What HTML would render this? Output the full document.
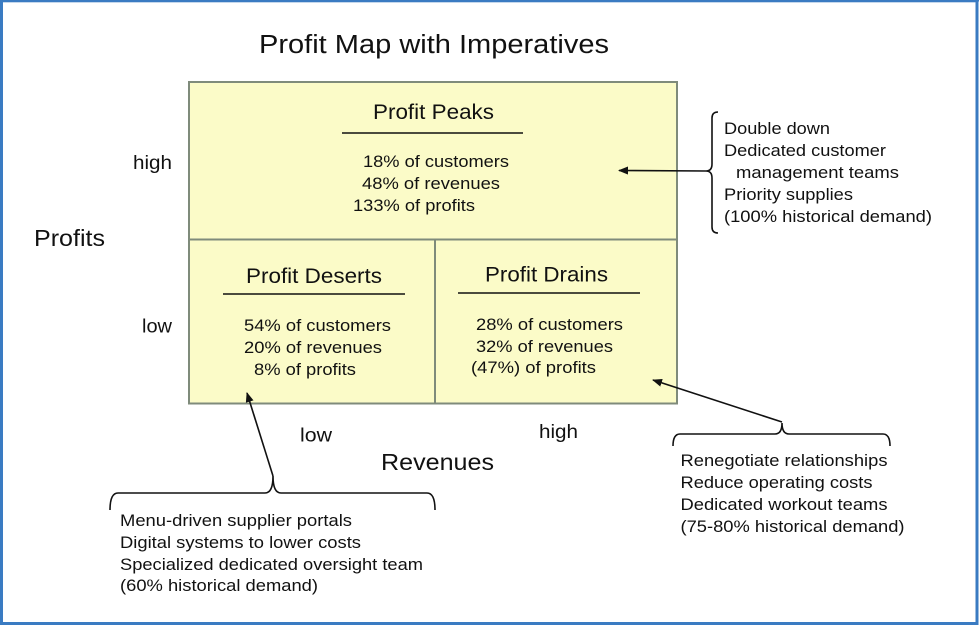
<!DOCTYPE html>
<html><head><meta charset="utf-8"><style>
html,body{margin:0;padding:0;background:#fff;}
svg{display:block;}
text{font-family:"Liberation Sans",Arial,sans-serif;fill:#111;}
</style></head><body>
<svg width="979" height="625" viewBox="0 0 979 625" xmlns="http://www.w3.org/2000/svg">
<defs>
<marker id="ah" markerWidth="10" markerHeight="8" refX="9" refY="4" orient="auto" markerUnits="userSpaceOnUse">
<path d="M0,0 L10,4 L0,8 Z" fill="#111"/>
</marker>
</defs>
<rect x="0" y="0" width="979" height="625" fill="#fff"/>
<!-- blue frame -->
<rect x="1.5" y="0.8" width="975.5" height="622.7" fill="none" stroke="#3a7bc2" stroke-width="3"/>
<rect x="0" y="0" width="979" height="1.5" fill="#3a7bc2"/>

<!-- title -->
<text x="259" y="53" font-size="25.5" textLength="350" lengthAdjust="spacingAndGlyphs">Profit Map with Imperatives</text>

<!-- matrix -->
<rect x="189" y="82" width="488" height="321.5" fill="#fbfbc8" stroke="#7f8b7b" stroke-width="2"/>
<line x1="189" y1="239.5" x2="677" y2="239.5" stroke="#7f8b7b" stroke-width="2"/>
<line x1="435" y1="239.5" x2="435" y2="403.5" stroke="#7f8b7b" stroke-width="2"/>

<!-- Peaks -->
<text x="373" y="119" font-size="21" textLength="121" lengthAdjust="spacingAndGlyphs">Profit Peaks</text>
<line x1="342" y1="133" x2="523" y2="133" stroke="#111" stroke-width="1.6"/>
<text x="363" y="167" font-size="17" textLength="146" lengthAdjust="spacingAndGlyphs">18% of customers</text>
<text x="362" y="189" font-size="17" textLength="138" lengthAdjust="spacingAndGlyphs">48% of revenues</text>
<text x="353" y="211" font-size="17" textLength="122" lengthAdjust="spacingAndGlyphs">133% of profits</text>

<!-- Deserts -->
<text x="246" y="283" font-size="21" textLength="136" lengthAdjust="spacingAndGlyphs">Profit Deserts</text>
<line x1="223" y1="294" x2="405" y2="294" stroke="#111" stroke-width="1.6"/>
<text x="244" y="331" font-size="17" textLength="147" lengthAdjust="spacingAndGlyphs">54% of customers</text>
<text x="244" y="353" font-size="17" textLength="138" lengthAdjust="spacingAndGlyphs">20% of revenues</text>
<text x="254" y="375" font-size="17" textLength="102" lengthAdjust="spacingAndGlyphs">8% of profits</text>

<!-- Drains -->
<text x="485" y="281.5" font-size="21" textLength="123" lengthAdjust="spacingAndGlyphs">Profit Drains</text>
<line x1="458" y1="293" x2="640" y2="293" stroke="#111" stroke-width="1.6"/>
<text x="476" y="330" font-size="17" textLength="147" lengthAdjust="spacingAndGlyphs">28% of customers</text>
<text x="476" y="352" font-size="17" textLength="137" lengthAdjust="spacingAndGlyphs">32% of revenues</text>
<text x="471" y="373" font-size="17" textLength="125" lengthAdjust="spacingAndGlyphs">(47%) of profits</text>

<!-- axis labels -->
<text x="133" y="169" font-size="19" textLength="39" lengthAdjust="spacingAndGlyphs">high</text>
<text x="34" y="246" font-size="23.5" textLength="71" lengthAdjust="spacingAndGlyphs">Profits</text>
<text x="142" y="332.5" font-size="19" textLength="30" lengthAdjust="spacingAndGlyphs">low</text>
<text x="300" y="441.5" font-size="19" textLength="32" lengthAdjust="spacingAndGlyphs">low</text>
<text x="539" y="438" font-size="19" textLength="39" lengthAdjust="spacingAndGlyphs">high</text>
<text x="381" y="470" font-size="23.5" textLength="113" lengthAdjust="spacingAndGlyphs">Revenues</text>

<!-- right brace + arrow -->
<path d="M718,112 Q712,112 712,118 L712,164 Q712,171 706,171 Q712,171 712,178 L712,227 Q712,233 718,233" fill="none" stroke="#111" stroke-width="1.6"/>
<line x1="706" y1="171" x2="619" y2="170.5" stroke="#111" stroke-width="1.6" marker-end="url(#ah)"/>
<text x="724" y="134" font-size="17" textLength="106" lengthAdjust="spacingAndGlyphs">Double down</text>
<text x="724" y="156" font-size="17" textLength="162" lengthAdjust="spacingAndGlyphs">Dedicated customer</text>
<text x="736" y="178" font-size="17" textLength="163" lengthAdjust="spacingAndGlyphs">management teams</text>
<text x="724" y="200" font-size="17" textLength="129" lengthAdjust="spacingAndGlyphs">Priority supplies</text>
<text x="724" y="222" font-size="17" textLength="208" lengthAdjust="spacingAndGlyphs">(100% historical demand)</text>

<!-- bottom-left brace + arrow -->
<path d="M110,510 Q110,493 118,493 L265,493 Q273,493 273,476 Q273,493 281,493 L427,493 Q435,493 435,510" fill="none" stroke="#111" stroke-width="1.6"/>
<line x1="273" y1="476" x2="247" y2="393" stroke="#111" stroke-width="1.6" marker-end="url(#ah)"/>
<text x="120" y="526" font-size="17" textLength="232" lengthAdjust="spacingAndGlyphs">Menu-driven supplier portals</text>
<text x="120" y="548" font-size="17" textLength="241" lengthAdjust="spacingAndGlyphs">Digital systems to lower costs</text>
<text x="120" y="570" font-size="17" textLength="303" lengthAdjust="spacingAndGlyphs">Specialized dedicated oversight team</text>
<text x="120" y="591" font-size="17" textLength="198" lengthAdjust="spacingAndGlyphs">(60% historical demand)</text>

<!-- bottom-right brace + arrow -->
<path d="M673,446 Q673,434 680,434 L775,434 Q782,434 782,423 Q782,434 789,434 L883,434 Q890,434 890,446" fill="none" stroke="#111" stroke-width="1.6"/>
<line x1="782" y1="422" x2="653" y2="380" stroke="#111" stroke-width="1.6" marker-end="url(#ah)"/>
<text x="680.5" y="466" font-size="17" textLength="207" lengthAdjust="spacingAndGlyphs">Renegotiate relationships</text>
<text x="680.5" y="488" font-size="17" textLength="192" lengthAdjust="spacingAndGlyphs">Reduce operating costs</text>
<text x="680.5" y="510" font-size="17" textLength="207" lengthAdjust="spacingAndGlyphs">Dedicated workout teams</text>
<text x="680.5" y="532" font-size="17" textLength="224" lengthAdjust="spacingAndGlyphs">(75-80% historical demand)</text>
</svg>
</body></html>
